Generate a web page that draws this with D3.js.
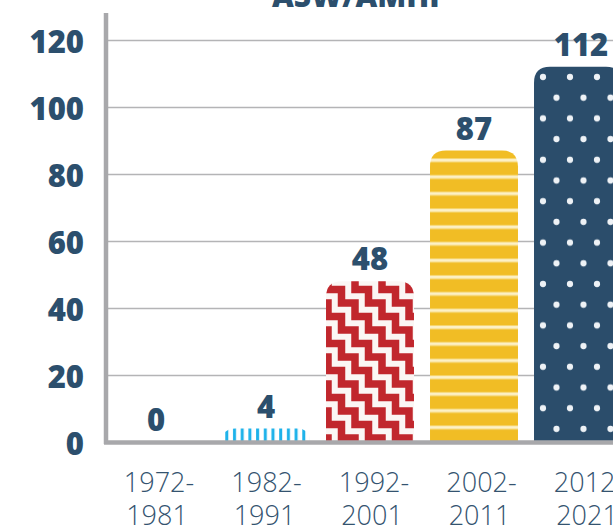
<!DOCTYPE html>
<html>
<head>
<meta charset="utf-8">
<script src="https://cdn.jsdelivr.net/npm/d3@7"></script>
<style>
  body { margin: 0; background: #fff; }
  svg { display: block; }
</style>
</head>
<body>
<div id="chart"></div>
<script>
// Data
const categories = ['1972-1981', '1982-1991', '1992-2001', '2002-2011', '2012-2021'];
const values = [0, 4, 48, 87, 112];
const yTicks = [0, 20, 40, 60, 80, 100, 120];
const title = 'ASW/AMHP';
const fills = ['none', 'url(#blueStripes)', 'url(#redZig)', 'url(#yellowStripes)', 'url(#navyDots)'];

const W = 613, H = 529;
const navy = '#2c4f6d';
const axisGrey = '#a8a8ab';

const svg = d3.select('#chart')
  .append('svg')
    .attr('width', W)
    .attr('height', H);

// Scales
const x = d3.scaleBand()
  .domain(categories)
  .range([110, 630])
  .paddingInner(0.154)
  .paddingOuter(0.077);

// category labels sit a little wider apart than the bars
const xLab = d3.scalePoint()
  .domain(categories)
  .range([157, 587]);

const y = d3.scaleLinear()
  .domain([0, 120])
  .range([442, 40]);

// Patterns
const defs = svg.append('defs');

let p = defs.append('pattern')
  .attr('id', 'blueStripes')
  .attr('patternUnits', 'userSpaceOnUse')
  .attr('width', 7.7).attr('height', 10);
p.append('rect').attr('width', 7.7).attr('height', 10).attr('fill', '#fff');
p.append('rect').attr('x', 2).attr('width', 3).attr('height', 10).attr('fill', '#1db2ea');

// zigzag steps going down to the right
const s = 13.5;
p = defs.append('pattern')
  .attr('id', 'redZig')
  .attr('patternUnits', 'userSpaceOnUse')
  .attr('x', 4).attr('y', 6)
  .attr('width', 2 * s).attr('height', 2 * s);
p.append('rect').attr('width', 2 * s).attr('height', 2 * s).attr('fill', '#fbf6f4');
[-2 * s, 0, 2 * s].forEach(dx => {
  p.append('path')
    .attr('d', `M${dx - 3 * s},${-2 * s} L${dx - 2 * s},${-2 * s} L${dx - 2 * s},${-s} L${dx - s},${-s} L${dx - s},0 L${dx},0 L${dx},${s} L${dx + s},${s} L${dx + s},${2 * s} L${dx + 2 * s},${2 * s} L${dx + 2 * s},${3 * s} L${dx + 3 * s},${3 * s}`)
    .attr('fill', 'none')
    .attr('stroke', '#c1272d')
    .attr('stroke-width', 7.5)
    .attr('stroke-linejoin', 'miter');
});

p = defs.append('pattern')
  .attr('id', 'yellowStripes')
  .attr('patternUnits', 'userSpaceOnUse')
  .attr('y', 158)
  .attr('width', 10).attr('height', 16.7);
p.append('rect').attr('width', 10).attr('height', 16.7).attr('fill', '#f1bd25');
p.append('rect').attr('y', 0).attr('width', 10).attr('height', 4.5).attr('fill', '#f6d56e');
p.append('rect').attr('y', 1).attr('width', 10).attr('height', 2.5).attr('fill', '#fdf1c6');

p = defs.append('pattern')
  .attr('id', 'navyDots')
  .attr('patternUnits', 'userSpaceOnUse')
  .attr('x', 543).attr('y', 77)
  .attr('width', 27).attr('height', 41.4);
p.append('rect').attr('width', 27).attr('height', 41.4).attr('fill', '#2b4d6b');
[[0, 0], [27, 0], [0, 41.4], [27, 41.4], [13.5, 20.7]].forEach(([cx, cy]) => {
  p.append('circle').attr('cx', cx).attr('cy', cy).attr('r', 3.1).attr('fill', '#eef2f6');
});

// Gridlines
svg.append('g')
  .attr('transform', 'translate(108,0)')
  .call(d3.axisLeft(y).tickValues(yTicks.filter(d => d > 0)).tickSize(-(W - 108)).tickFormat(''))
  .call(g => g.select('.domain').remove())
  .call(g => g.selectAll('line').attr('stroke', '#b4b4b6').attr('stroke-width', 1.5));

// Y tick labels
svg.append('g')
  .attr('transform', 'translate(84,3)')
  .call(d3.axisLeft(y).tickValues(yTicks).tickSize(0).tickPadding(0))
  .call(g => g.select('.domain').remove())
  .call(g => g.selectAll('text')
    .attr('fill', navy)
    .attr('font-family', 'Open Sans')
    .attr('font-weight', 800)
    .attr('font-size', 31));

// Bars with rounded tops
function roundedTop(x0, y0, w, h, r) {
  r = Math.min(r, h, w / 2);
  return `M${x0},${y0 + h} L${x0},${y0 + r} Q${x0},${y0} ${x0 + r},${y0} L${x0 + w - r},${y0} Q${x0 + w},${y0} ${x0 + w},${y0 + r} L${x0 + w},${y0 + h} Z`;
}

svg.append('g')
  .selectAll('path')
  .data(categories.filter((c, i) => values[i] > 0))
  .join('path')
    .attr('d', c => {
      const i = categories.indexOf(c);
      return roundedTop(x(c), y(values[i]), x.bandwidth(), y(0) - y(values[i]), 16);
    })
    .attr('fill', c => fills[categories.indexOf(c)]);

// Value labels
svg.append('g')
  .selectAll('text')
  .data(categories)
  .join('text')
    .attr('x', c => x(c) + x.bandwidth() / 2 - (categories.indexOf(c) === 0 ? 6 : 0) + (categories.indexOf(c) === 4 ? 3 : 0))
    .attr('y', (c, i) => y(values[i]) - 11)
    .attr('text-anchor', 'middle')
    .attr('fill', navy)
    .attr('font-family', 'Open Sans')
    .attr('font-weight', 800)
    .attr('font-size', 31)
    .text((c, i) => values[i]);

// Axis lines
svg.append('line')
  .attr('x1', 106).attr('x2', 106)
  .attr('y1', 13).attr('y2', 444)
  .attr('stroke', axisGrey).attr('stroke-width', 4.5);

svg.append('g')
  .attr('transform', 'translate(0,442.5)')
  .call(d3.axisBottom(x).tickSize(0).tickPadding(0).tickFormat(''))
  .call(g => g.select('.domain')
    .attr('d', `M104,0 H${W}`)
    .attr('stroke', axisGrey)
    .attr('stroke-width', 4.5));

// X labels (two lines)
const xl = svg.append('g')
  .selectAll('text')
  .data(categories)
  .join('text')
    .attr('y', 492)
    .attr('text-anchor', 'middle')
    .attr('fill', '#34536f')
    .attr('font-family', 'Open Sans')
    .attr('font-weight', 300)
    .attr('font-size', 27);
xl.append('tspan')
  .attr('x', c => xLab(c) + 2)
  .text(c => c.split('-')[0] + '-');
xl.append('tspan')
  .attr('x', c => xLab(c))
  .attr('dy', 33)
  .text(c => c.split('-')[1]);

// Title
svg.append('text')
  .attr('x', 360)
  .attr('y', 7)
  .attr('text-anchor', 'middle')
  .attr('fill', navy)
  .attr('font-family', 'Open Sans')
  .attr('font-weight', 800)
  .attr('font-size', 30)
  .text(title);
</script>
</body>
</html>
